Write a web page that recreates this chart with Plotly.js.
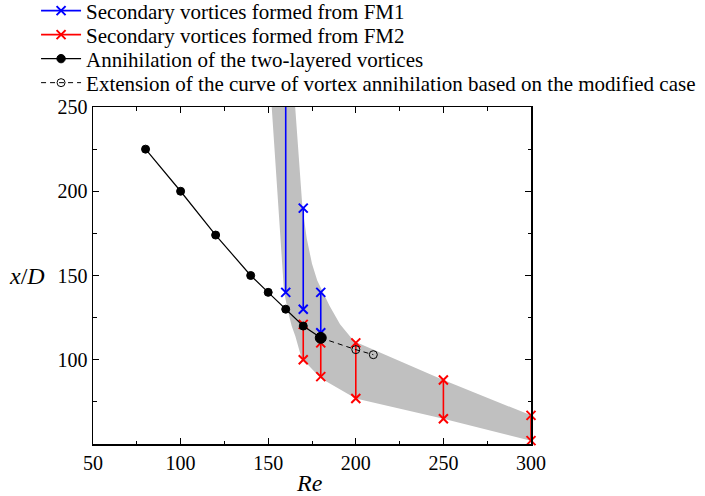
<!DOCTYPE html>
<html>
<head>
<meta charset="utf-8">
<script src="https://cdn.plot.ly/plotly-3.0.1.min.js"></script>
<style>html,body{margin:0;padding:0;background:#fff;}#chart{width:705px;height:496px;}</style>
</head>
<body>
<div id="chart"></div>
<script>
// ---- data ----
var fm1Re    = [160, 170, 180];
var fm1Upper = [262, 190, 140];
var fm1Lower = [140, 130, 116];

var fm2Re    = [170, 180, 200, 250, 300];
var fm2Upper = [121, 110, 110, 88, 67];
var fm2Lower = [100, 90, 77, 65, 52];

var annRe = [80, 100, 120, 140, 150, 160, 170, 180];
var annXD = [225, 200, 174, 150, 140, 130, 120, 113];

var extRe = [180, 200, 210];
var extXD = [113, 106, 103];

// grey band: right/upper edge (top to bottom-right), left/lower edge (top to bottom-right)
var bandUpperRe = [165.4, 167.5, 169.5, 172, 175, 178, 180.5, 185, 191, 199, 250, 300];
var bandUpperXD = [250, 220, 191, 172, 157, 147, 141.6, 132, 121, 111, 88, 67];
var bandLowerRe = [152, 154, 156.5, 159, 161, 163.4, 165.5, 169, 180, 200, 250, 300];
var bandLowerXD = [250, 215, 180, 141, 130, 120, 114, 101, 89, 77, 65, 52];

var xTicks = [50, 100, 150, 200, 250, 300];
var yTicks = [100, 150, 200, 250];

var legendNames = [
  'Secondary vortices formed from FM1',
  'Secondary vortices formed from FM2',
  'Annihilation of the two-layered vortices',
  'Extension of the curve of vortex annihilation based on the modified case'
];

// ---- helpers ----
function segments(xs, lo, hi) {
  var x = [], y = [];
  for (var i = 0; i < xs.length; i++) {
    x.push(xs[i], xs[i], null);
    y.push(hi[i], lo[i], null);
  }
  return {x: x, y: y};
}
var bandX = bandUpperRe.concat(bandLowerRe.slice().reverse());
var bandY = bandUpperXD.concat(bandLowerXD.slice().reverse());

var s1 = segments(fm1Re, fm1Lower, fm1Upper);
var s2 = segments(fm2Re, fm2Lower, fm2Upper);

var FONT = 'Liberation Serif, Times New Roman, serif';

var traces = [
  {x: bandX, y: bandY, type: 'scatter', mode: 'lines', fill: 'toself',
   fillcolor: '#c0c0c0', line: {width: 0, color: '#c0c0c0'}, showlegend: false, hoverinfo: 'skip'},
  {x: s1.x, y: s1.y, type: 'scatter', mode: 'lines+markers', name: legendNames[0],
   line: {color: '#0000ff', width: 1.6},
   marker: {symbol: 'x-thin-open', size: 9, color: '#0000ff', line: {color: '#0000ff', width: 2}},
   legend: 'legend'},
  {x: s2.x, y: s2.y, type: 'scatter', mode: 'lines+markers', name: legendNames[1], cliponaxis: false,
   line: {color: '#ff0000', width: 1.6},
   marker: {symbol: 'x-thin-open', size: 9, color: '#ff0000', line: {color: '#ff0000', width: 2}},
   legend: 'legend2'},
  {x: extRe, y: extXD, type: 'scatter', mode: 'lines+markers', name: legendNames[3],
   line: {color: '#000000', width: 1, dash: '5px,4px'},
   marker: {symbol: 'circle-open', size: 8, color: '#000000', line: {color: '#000000', width: 1}},
   legend: 'legend4'},
  {x: annRe, y: annXD, type: 'scatter', mode: 'lines+markers', name: legendNames[2],
   line: {color: '#000000', width: 1.2},
   marker: {symbol: 'circle', size: [8, 8, 8, 8, 8, 8, 8, 11], color: '#000000',
            opacity: 1, line: {color: '#000000', width: 1}},
   legend: 'legend3'}
];

function leg(yc) {
  return {x: -0.13, xanchor: 'left', y: (444 - yc) / 337, yanchor: 'middle',
          bgcolor: 'rgba(0,0,0,0)', borderwidth: 0, itemwidth: 40,
          font: {family: FONT, size: 21, color: '#000000'}, itemclick: false};
}

var layout = {
  width: 705, height: 496,
  margin: {l: 93, r: 174, t: 107, b: 52, pad: 0, autoexpand: false},
  paper_bgcolor: '#ffffff', plot_bgcolor: '#ffffff',
  font: {family: FONT, size: 20, color: '#000000'},
  showlegend: true,
  legend: leg(11), legend2: leg(35), legend3: leg(59), legend4: leg(83),
  xaxis: {range: [50, 300], tickvals: xTicks, ticktext: xTicks.map(String),
          ticks: 'inside', ticklen: 6, tickwidth: 1.2, tickcolor: '#000',
          minor: {ticks: 'inside', ticklen: 3.5, tickwidth: 1, tickcolor: '#000', dtick: 25, tick0: 50},
          showline: true, linecolor: '#000', linewidth: 1.5, mirror: 'ticks',
          showgrid: false, zeroline: false, tickfont: {family: FONT, size: 20, color: '#000'}},
  yaxis: {range: [50, 250], tickvals: yTicks, ticktext: yTicks.map(String),
          ticks: 'inside', ticklen: 6, tickwidth: 1.2, tickcolor: '#000',
          minor: {ticks: 'inside', ticklen: 3.5, tickwidth: 1, tickcolor: '#000', dtick: 25, tick0: 50},
          showline: true, linecolor: '#000', linewidth: 1.5, mirror: 'ticks',
          showgrid: false, zeroline: false, tickfont: {family: FONT, size: 20, color: '#000'}},
  annotations: [
    {text: '<i>x</i>/<i>D</i>', xref: 'paper', yref: 'paper', x: -0.15, y: 0.5, xanchor: 'center', yanchor: 'middle',
     showarrow: false, font: {family: FONT, size: 24, color: '#000'}},
    {text: '<i>Re</i>', xref: 'paper', yref: 'paper', x: 0.495, y: -0.115, xanchor: 'center', yanchor: 'middle',
     showarrow: false, font: {family: FONT, size: 24, color: '#000'}}
  ]
};

Plotly.newPlot('chart', traces, layout, {staticPlot: true, displayModeBar: false});
</script>
</body>
</html>
